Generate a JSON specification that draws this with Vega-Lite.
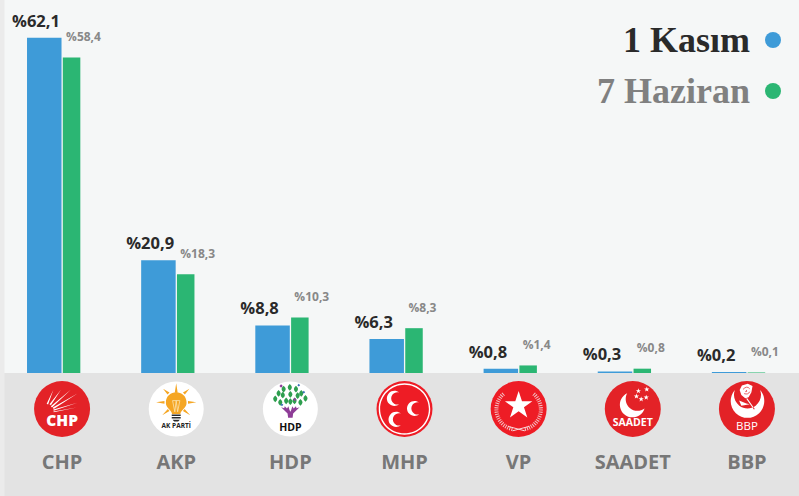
{
"$schema":"https://vega.github.io/schema/vega-lite/v6.json",
"width":799,"height":373,
"autosize":{"type":"none"},
"padding":{"left":0,"top":0,"right":0,"bottom":123},
"background":"#f5f7f7",
"config":{"view":{"stroke":null}},
"data":{"values":[
{"party":"CHP","election":"1 Kasım","value":62.1,"label":"%62,1"},
{"party":"CHP","election":"7 Haziran","value":58.4,"label":"%58,4"},
{"party":"AKP","election":"1 Kasım","value":20.9,"label":"%20,9"},
{"party":"AKP","election":"7 Haziran","value":18.3,"label":"%18,3"},
{"party":"HDP","election":"1 Kasım","value":8.8,"label":"%8,8"},
{"party":"HDP","election":"7 Haziran","value":10.3,"label":"%10,3"},
{"party":"MHP","election":"1 Kasım","value":6.3,"label":"%6,3"},
{"party":"MHP","election":"7 Haziran","value":8.3,"label":"%8,3"},
{"party":"VP","election":"1 Kasım","value":0.8,"label":"%0,8"},
{"party":"VP","election":"7 Haziran","value":1.4,"label":"%1,4"},
{"party":"SAADET","election":"1 Kasım","value":0.3,"label":"%0,3"},
{"party":"SAADET","election":"7 Haziran","value":0.8,"label":"%0,8"},
{"party":"BBP","election":"1 Kasım","value":0.2,"label":"%0,2"},
{"party":"BBP","election":"7 Haziran","value":0.1,"label":"%0,1"}
]},
"encoding":{
"x":{"field":"party","type":"nominal","sort":null,
"scale":{"domain":["CHP","AKP","HDP","MHP","VP","SAADET","BBP"],"range":[5,804],"paddingInner":0,"paddingOuter":0},
"axis":{"title":null,"domain":false,"ticks":false,"grid":false,"labelAngle":0,"labelPadding":79,"labelFont":"Open Sans","labelFontWeight":700,"labelFontSize":20,"labelColor":"#777777","labelOverlap":false,"labelBound":false,"labelFlush":false,"zindex":1}}
},
"layer":[
{"data":{"values":[{"panel":1}]},"mark":{"type":"rect","fill":"#e3e3e3"},"encoding":{"x":{"value":0},"x2":{"value":799},"y":{"value":373},"y2":{"value":496}}},
{"data":{"values":[{"panel":1}]},"mark":{"type":"rect","fill":"#ebebeb"},"encoding":{"x":{"value":0},"x2":{"value":4.5},"y":{"value":0},"y2":{"value":496}}},
{"transform":[{"filter":"datum.election=='1 Kasım'"}],"mark":{"type":"bar","width":34.5,"xOffset":-17.8},
"encoding":{"y":{"field":"value","type":"quantitative","scale":{"domain":[0,69.07],"nice":false,"zero":true},"axis":null},"color":{"field":"election","type":"nominal","scale":{"domain":["1 Kasım","7 Haziran"],"range":["#3e9bd8","#2bb673"]},"legend":null}}},
{"transform":[{"filter":"datum.election=='7 Haziran'"}],"mark":{"type":"bar","width":17.5,"xOffset":9.5},
"encoding":{"y":{"field":"value","type":"quantitative"},"color":{"field":"election","type":"nominal"}}},
{"transform":[{"filter":"datum.election=='1 Kasım'"}],"mark":{"type":"text","font":"Open Sans","fontWeight":700,"fontSize":16.5,"color":"#2a2a2a","align":"left","baseline":"alphabetic","dx":-50,"dy":-11},
"encoding":{"y":{"field":"value","type":"quantitative"},"text":{"field":"label"}}},
{"transform":[{"filter":"datum.election=='7 Haziran'"}],"mark":{"type":"text","font":"Open Sans","fontWeight":700,"fontSize":12,"color":"#888888","align":"left","baseline":"alphabetic","dx":4,"dy":-16.5},
"encoding":{"y":{"field":"value","type":"quantitative"},"text":{"field":"label"}}},

{"data":{"values":[{"party":"CHP"},{"party":"SAADET"},{"party":"BBP"}]},"mark":{"type":"point","shape":"circle","size":3136,"filled":true,"fill":"#e32227","opacity":1,"strokeWidth":0},"encoding":{"y":{"value":409}}},
{"data":{"values":[{"party":"MHP"},{"party":"VP"}]},"mark":{"type":"point","shape":"circle","size":3136,"filled":true,"fill":"#ee1c25","opacity":1,"strokeWidth":0},"encoding":{"y":{"value":409}}},
{"data":{"values":[{"party":"AKP"},{"party":"HDP"}]},"mark":{"type":"point","shape":"circle","size":3025,"filled":true,"fill":"#ffffff","opacity":1,"strokeWidth":0},"encoding":{"y":{"value":409}}},

{"data":{"values":[{"party":"CHP"}]},"mark":{"type":"point","size":3136,"filled":true,"fill":"#ffffff","opacity":1,"strokeWidth":0,"shape":"M-.55 -.19 L-.31 -.69 L-.5 -.16 Z M-.45 -.17 L-.04 -.69 L-.4 -.13 Z M-.4 -.1 L.31 -.69 L-.36 -.05 Z M-.33 -.05 L.55 -.55 L-.3 .0 Z M-.31 .02 L.55 -.22 L-.3 .06 Z M-.31 .09 L.52 -.05 L-.3 .12 Z"},"encoding":{"y":{"value":409}}},
{"data":{"values":[{"party":"CHP"}]},"mark":{"type":"text","text":"CHP","font":"Open Sans","fontWeight":800,"fontSize":15.5,"color":"#ffffff","align":"center","baseline":"alphabetic"},"encoding":{"y":{"value":426}}},

{"data":{"values":[{"party":"AKP"}]},"mark":{"type":"point","size":3136,"filled":true,"fill":"#f5a623","opacity":1,"strokeWidth":0,"shape":"M-.15 .18 C-.15 .05 -.37 -.02 -.37 -.22 C-.37 -.72 .37 -.72 .37 -.22 C.37 -.02 .15 .05 .15 .18 Z M0 -.92 L.05 -.6 L-.05 -.6 Z M-.47 -.72 L-.24 -.59 L-.31 -.52 Z M.47 -.72 L.31 -.52 L.24 -.59 Z M-.72 -.24 L-.42 -.29 L-.42 -.19 Z M.72 -.24 L.42 -.19 L.42 -.29 Z M-.5 .22 L-.3 0 L-.24 .07 Z M.5 .22 L.24 .07 L.3 0 Z"},"encoding":{"y":{"value":409}}},
{"data":{"values":[{"party":"AKP"}]},"mark":{"type":"point","size":3136,"filled":false,"stroke":"#fbe3b0","opacity":1,"strokeWidth":0.8,"shape":"M-.13 -.3 L-.05 .1 L0 -.3 L.05 .1 L.13 -.3 M-.13 -.3 L.13 -.3"},"encoding":{"y":{"value":409}}},
{"data":{"values":[{"party":"AKP"}]},"mark":{"type":"point","size":3136,"filled":true,"fill":"#2a2a2a","opacity":1,"strokeWidth":0,"shape":"M-.16 .2 L.16 .2 L.16 .25 L-.16 .25 Z M-.16 .29 L.16 .29 L.16 .34 L-.16 .34 Z M-.13 .38 L.13 .38 L.07 .45 L-.07 .45 Z"},"encoding":{"y":{"value":409}}},
{"data":{"values":[{"party":"AKP"}]},"mark":{"type":"text","text":"AK PARTİ","font":"Open Sans","fontWeight":700,"fontSize":6.5,"color":"#222222","align":"center","baseline":"alphabetic"},"encoding":{"y":{"value":428}}},

{"data":{"values":[{"party":"HDP"}]},"mark":{"type":"point","size":3136,"filled":true,"fill":"#2e9e4f","opacity":1,"strokeWidth":0,"shape":"M-.02 -.89 q.15 .12 0 .24 q-.15 -.12 0 -.24 z M-.24 -.83 q.15 .12 0 .24 q-.15 -.12 0 -.24 z M.2 -.83 q.15 .12 0 .24 q-.15 -.12 0 -.24 z M-.42 -.68 q.15 .12 0 .24 q-.15 -.12 0 -.24 z M.39 -.68 q.15 .12 0 .24 q-.15 -.12 0 -.24 z M-.54 -.48 q.15 .12 0 .24 q-.15 -.12 0 -.24 z M.54 -.5 q.15 .12 0 .24 q-.15 -.12 0 -.24 z M-.27 -.62 q.15 .12 0 .24 q-.15 -.12 0 -.24 z M0 -.64 q.15 .12 0 .24 q-.15 -.12 0 -.24 z M.26 -.6 q.15 .12 0 .24 q-.15 -.12 0 -.24 z M-.15 -.41 q.15 .12 0 .24 q-.15 -.12 0 -.24 z M.15 -.41 q.15 .12 0 .24 q-.15 -.12 0 -.24 z M-.36 -.36 q.15 .12 0 .24 q-.15 -.12 0 -.24 z M.36 -.36 q.15 .12 0 .24 q-.15 -.12 0 -.24 z M0 -.38 q.15 .12 0 .24 q-.15 -.12 0 -.24 z"},"encoding":{"y":{"value":409}}},
{"data":{"values":[{"party":"HDP"}]},"mark":{"type":"point","size":3136,"filled":true,"fill":"#8e3d97","opacity":1,"strokeWidth":0,"shape":"M-.08 .31 L-.1 .16 L-.33 -.06 L-.22 -.03 L-.2 -.1 L-.12 -.02 L-.07 -.1 L-.03 .04 L0 .1 L.03 .04 L.07 -.1 L.12 -.02 L.2 -.1 L.22 -.03 L.33 -.06 L.1 .16 L.08 .31 Z M-.33 -.88 l.06 .06 l-.06 .06 l-.06 -.06 z M.16 -.4 l.06 .06 l-.06 .06 l-.06 -.06 z"},"encoding":{"y":{"value":409}}},
{"data":{"values":[{"party":"HDP"}]},"mark":{"type":"point","size":3136,"filled":true,"fill":"#3b6fb6","opacity":1,"strokeWidth":0,"shape":"M.3 -.9 l.05 .05 l-.05 .05 l-.05 -.05 z M-.3 -.2 l.05 .05 l-.05 .05 l-.05 -.05 z M.48 -.65 l.05 .05 l-.05 .05 l-.05 -.05 z"},"encoding":{"y":{"value":409}}},
{"data":{"values":[{"party":"HDP"}]},"mark":{"type":"text","text":"HDP","font":"Open Sans","fontWeight":700,"fontSize":10.5,"color":"#111111","align":"center","baseline":"alphabetic"},"encoding":{"y":{"value":430.5}}},

{"data":{"values":[{"party":"MHP"}]},"mark":{"type":"point","size":3136,"filled":true,"fill":"#ffffff","opacity":1,"strokeWidth":0,"shape":"M-.19 -.59 A.27 .27 0 1 0 -.19 -.17 A.22 .22 0 1 1 -.19 -.59 Z M-.13 .16 A.27 .27 0 1 0 -.13 .58 A.22 .22 0 1 1 -.13 .16 Z M.53 -.23 A.27 .27 0 1 0 .53 .19 A.22 .22 0 1 1 .53 -.23 Z M-.92 0 A.92 .92 0 1 1 .92 0 A.92 .92 0 1 1 -.92 0 Z M-.87 0 A.87 .87 0 1 0 .87 0 A.87 .87 0 1 0 -.87 0 Z"},"encoding":{"y":{"value":409}}},

{"data":{"values":[{"party":"VP"}]},"mark":{"type":"point","size":3136,"filled":false,"stroke":"#f2c4c6","opacity":1,"strokeWidth":4,"strokeDash":[1,1.2],"shape":"M-.22 .72 A.72 .72 0 0 1 -.52 -.55 M.22 .72 A.72 .72 0 0 0 .52 -.55"},"encoding":{"y":{"value":409}}},
{"data":{"values":[{"party":"VP"}]},"mark":{"type":"point","size":3136,"filled":false,"stroke":"#f7dcdd","opacity":1,"strokeWidth":1,"shape":"M-.38 .62 L.22 .78 M.38 .62 L-.22 .78"},"encoding":{"y":{"value":409}}},
{"data":{"values":[{"party":"VP"}]},"mark":{"type":"point","size":3136,"filled":true,"fill":"#ffffff","opacity":1,"strokeWidth":0,"shape":"M0 -.64 L.12 -.28 L.49 -.28 L.19 -.06 L.31 .3 L0 .08 L-.31 .3 L-.19 -.06 L-.49 -.28 L-.12 -.28 Z"},"encoding":{"y":{"value":409}}},

{"data":{"values":[{"party":"SAADET"}]},"mark":{"type":"point","size":3136,"filled":true,"fill":"#ffffff","opacity":1,"strokeWidth":0,"shape":"M-.2 -.56 A.45 .45 0 1 0 .42 -.02 A.42 .42 0 0 1 -.2 -.56 Z M.2 -.74 l.024 .068 l.071 0 l-.057 .042 l.021 .069 l-.059 -.043 l-.059 .043 l.021 -.069 l-.057 -.042 l.071 0 z M.5 -.8 l.024 .068 l.071 0 l-.057 .042 l.021 .069 l-.059 -.043 l-.059 .043 l.021 -.069 l-.057 -.042 l.071 0 z M.13 -.55 l.024 .068 l.071 0 l-.057 .042 l.021 .069 l-.059 -.043 l-.059 .043 l.021 -.069 l-.057 -.042 l.071 0 z M.3 -.45 l.024 .068 l.071 0 l-.057 .042 l.021 .069 l-.059 -.043 l-.059 .043 l.021 -.069 l-.057 -.042 l.071 0 z M.48 -.51 l.024 .068 l.071 0 l-.057 .042 l.021 .069 l-.059 -.043 l-.059 .043 l.021 -.069 l-.057 -.042 l.071 0 z"},"encoding":{"y":{"value":409}}},
{"data":{"values":[{"party":"SAADET"}]},"mark":{"type":"text","text":"SAADET","font":"Open Sans","fontWeight":700,"fontSize":10.5,"color":"#ffffff","align":"center","baseline":"alphabetic"},"encoding":{"y":{"value":425.5}}},

{"data":{"values":[{"party":"BBP"}]},"mark":{"type":"point","size":3136,"filled":true,"fill":"#ffffff","opacity":1,"strokeWidth":0,"shape":"M-.43 -.68 A.6 .6 0 1 0 .47 -.68 A.483 .483 0 1 1 -.43 -.68 Z M-.26 -.68 L-.18 -.84 L.03 -.9 L.2 -.82 L.16 -.6 L.06 -.42 L-.06 -.38 L-.2 -.5 Z M.0 -.4 L.28 .0 L.25 .02 L-.02 -.36 Z M-.02 -.2 L-.28 -.3 L-.2 -.12 L.1 -.17 Z"},"encoding":{"y":{"value":409}}},
{"data":{"values":[{"party":"BBP"}]},"mark":{"type":"point","size":3136,"filled":false,"stroke":"#e32227","opacity":1,"strokeWidth":0.7,"shape":"M-.14 -.7 Q0 -.85 .1 -.72 M-.1 -.55 Q.05 -.5 .1 -.62 M-.02 -.68 Q.02 -.6 -.06 -.62"},"encoding":{"y":{"value":409}}},
{"data":{"values":[{"party":"BBP"}]},"mark":{"type":"text","text":"BBP","font":"Open Sans","fontWeight":400,"fontSize":11.5,"color":"#ffffff","align":"center","baseline":"alphabetic"},"encoding":{"y":{"value":430}}},

{"data":{"values":[{"election":"1 Kasım"}]},"mark":{"type":"text","font":"Liberation Serif","fontWeight":700,"fontSize":36,"color":"#2a2a2a","align":"right","baseline":"alphabetic"},"encoding":{"x":{"value":750},"y":{"value":52},"text":{"field":"election"}}},
{"data":{"values":[{"election":"7 Haziran"}]},"mark":{"type":"text","font":"Liberation Serif","fontWeight":700,"fontSize":36,"color":"#808080","align":"right","baseline":"alphabetic"},"encoding":{"x":{"value":750},"y":{"value":103},"text":{"field":"election"}}},
{"data":{"values":[{"election":"1 Kasım"}]},"mark":{"type":"point","shape":"circle","size":256,"filled":true,"opacity":1,"strokeWidth":0},"encoding":{"x":{"value":773},"y":{"value":40},"color":{"field":"election","type":"nominal"}}},
{"data":{"values":[{"election":"7 Haziran"}]},"mark":{"type":"point","shape":"circle","size":256,"filled":true,"opacity":1,"strokeWidth":0},"encoding":{"x":{"value":773},"y":{"value":91},"color":{"field":"election","type":"nominal"}}}
]
}
